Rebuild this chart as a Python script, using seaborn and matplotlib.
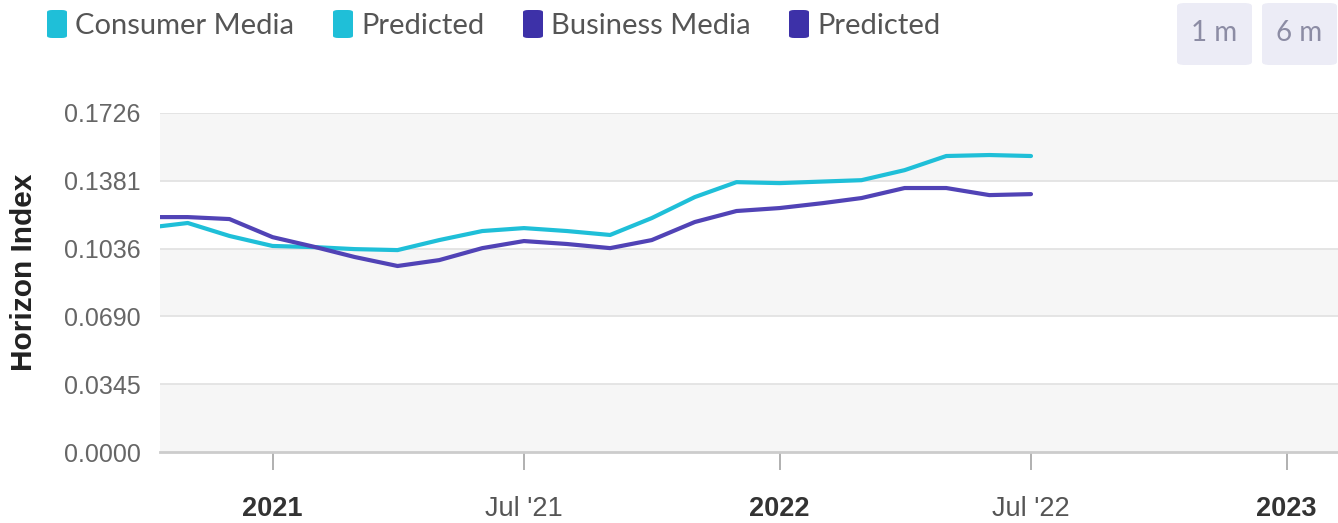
import matplotlib
matplotlib.use("Agg")
import matplotlib.pyplot as plt
from matplotlib.patches import FancyBboxPatch
import numpy as np
import pandas as pd
import seaborn as sns

# ---- data ----
months = pd.date_range("2020-10-01", "2022-07-01", freq="MS")
consumer_media = [0.1140, 0.1166, 0.1100, 0.1049, 0.1043, 0.1033, 0.1028, 0.1079,
                  0.1125, 0.1140, 0.1125, 0.1105, 0.1191, 0.1298, 0.1374, 0.1369,
                  0.1377, 0.1384, 0.1435, 0.1507, 0.1512, 0.1507]
business_media = [0.1196, 0.1196, 0.1186, 0.1094, 0.1043, 0.0993, 0.0947, 0.0977,
                  0.1038, 0.1074, 0.1059, 0.1038, 0.1079, 0.1171, 0.1227, 0.1242,
                  0.1267, 0.1293, 0.1344, 0.1344, 0.1308, 0.1313]
series_names = ["Consumer Media", "Business Media"]
legend_labels = ["Consumer Media", "Predicted", "Business Media", "Predicted"]
y_ticks = [0.0, 0.0345, 0.0690, 0.1036, 0.1381, 0.1726]
x_tick_dates = ["2021-01-01", "2021-07-01", "2022-01-01", "2022-07-01", "2023-01-01"]
x_tick_labels = ["2021", "Jul '21", "2022", "Jul '22", "2023"]
buttons = ["1 m", "6 m"]

CYAN = "#1fbfd8"
PURPLE = "#5143b6"
PURPLE_LEG = "#3d31a8"

df = pd.DataFrame({
    "date": list(months) * 2,
    "value": consumer_media + business_media,
    "series": [series_names[0]] * len(months) + [series_names[1]] * len(months),
})

sns.set_theme(style="white")
plt.rcParams["font.family"] = ["Liberation Sans", "DejaVu Sans"]

W, H = 1338, 523
fig = plt.figure(figsize=(W / 100, H / 100), dpi=100)
ax = fig.add_axes([160 / W, (H - 452) / H, (W - 160) / W, (452 - 113) / H])

# alternating bands
for i in range(len(y_ticks) - 1):
    if (len(y_ticks) - 2 - i) % 2 == 0:
        ax.axhspan(y_ticks[i], y_ticks[i + 1], color="#f6f6f6", zorder=0, lw=0)
for yt in y_ticks[1:]:
    ax.axhline(yt, color="#e3e3e3", lw=1.3, zorder=1)

sns.lineplot(data=df, x="date", y="value", hue="series",
             palette={series_names[0]: CYAN, series_names[1]: PURPLE},
             linewidth=3, ax=ax, legend=False, zorder=3)

ax.set_ylim(0, y_ticks[-1])
ax.set_xlim(pd.Timestamp("2020-10-12"), pd.Timestamp("2023-02-07"))
ax.set_yticks(y_ticks)
ax.set_yticklabels([f"{v:.4f}" for v in y_ticks], fontsize=18, color="#666666")
ax.set_xticks([pd.Timestamp(d) for d in x_tick_dates])
ax.set_xticklabels(x_tick_labels, fontsize=19.5, color="#333333")
for lbl in ax.get_xticklabels():
    if "'" not in lbl.get_text():
        lbl.set_fontweight("bold")
    else:
        lbl.set_color("#555555")
ax.tick_params(axis="x", length=13, width=1.3, color="#aaaaaa", pad=19, bottom=True)
ax.tick_params(axis="y", length=0, pad=14)
for s in ["top", "right", "left"]:
    ax.spines[s].set_visible(False)
ax.spines["bottom"].set_color("#cccccc")
ax.spines["bottom"].set_linewidth(2)
ax.set_xlabel("")
ax.set_ylabel("Horizon Index", fontsize=21.5, fontweight="bold", color="#222222")
ax.yaxis.set_label_coords((38 - 160) / (W - 160), (452 - 272) / (452 - 113))
ax.set_facecolor("white")

# legend (custom, at top)
leg_items = [(47, legend_labels[0], CYAN), (333, legend_labels[1], CYAN),
             (523, legend_labels[2], PURPLE_LEG), (789, legend_labels[3], PURPLE_LEG)]
for x0, lab, col in leg_items:
    p = FancyBboxPatch((x0 / W, 1 - 38 / H), 20 / W, 28 / H,
                       boxstyle="round,pad=0,rounding_size=0.004",
                       transform=fig.transFigure, facecolor=col, edgecolor="none")
    fig.patches.append(p)
    fig.text((x0 + 28) / W, 1 - 26 / H, lab, fontsize=21, color="#555555",
             family=["Lato", "DejaVu Sans"], va="center", ha="left")

# buttons
for i, b in enumerate(buttons):
    x0 = 1177 + i * 85
    p = FancyBboxPatch((x0 / W, 1 - 65 / H), 75 / W, 62 / H,
                       boxstyle="round,pad=0,rounding_size=0.006",
                       transform=fig.transFigure, facecolor="#ececf6", edgecolor="none")
    fig.patches.append(p)
    fig.text((x0 + 37.5) / W, 1 - 33 / H, b, fontsize=20, color="#8c8ca4",
             family=["Lato", "DejaVu Sans"], va="center", ha="center")

fig.savefig("out.png", dpi=100, facecolor="white")
